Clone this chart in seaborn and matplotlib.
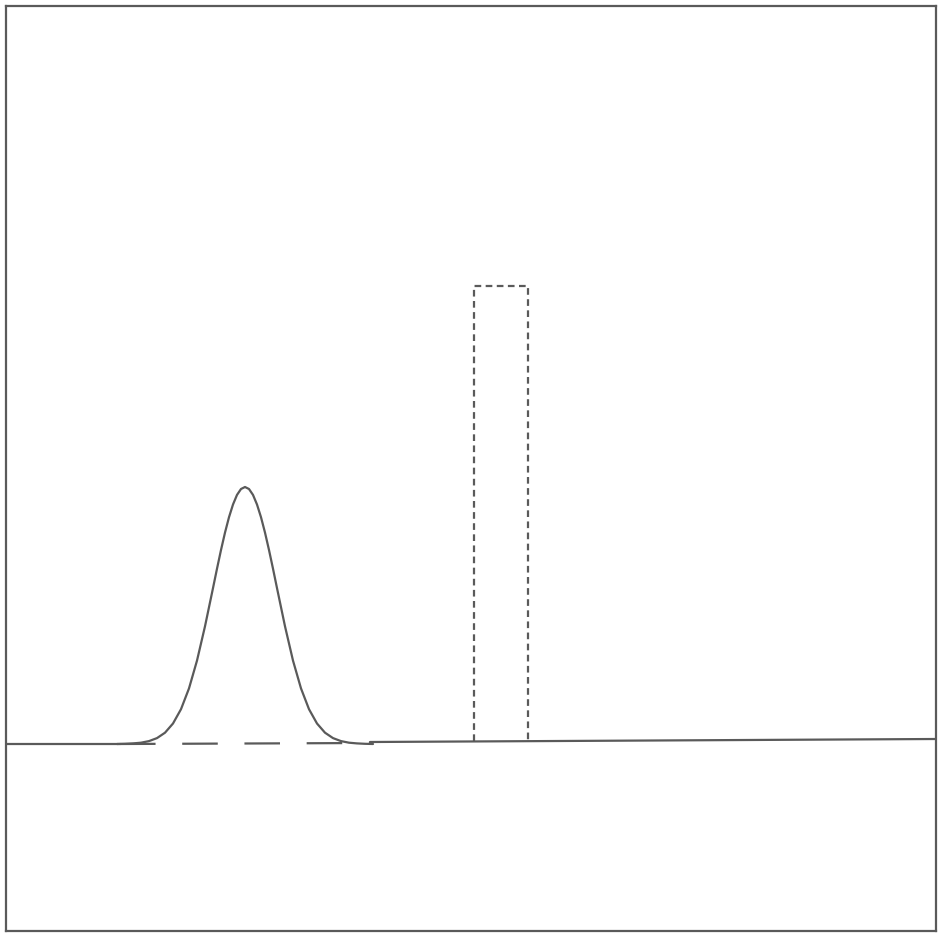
"""
Schematic: Gaussian peak on a baseline, next to a tall dashed rectangular pulse.
"""

import matplotlib
matplotlib.use("Agg")
import matplotlib.pyplot as plt
import numpy as np
import pandas as pd
import seaborn as sns

# peak: offsets from the centre and heights above the baseline
PEAK_CENTER = 245
PEAK_DX = [-128, -120, -112, -104, -96, -88, -80, -72, -64, -56, -48, -40, -32,
           -28, -24, -20, -16, -12, -8, -4, 0, 4, 8, 12, 16, 20, 24, 28, 32,
           40, 48, 56, 64, 72, 80, 88, 96, 104, 112, 120, 128]
PEAK_H = [0, 0.2, 0.6, 1.3, 2.9, 5.9, 11.3, 20.5, 34.8, 55.6, 83.4, 117.7, 155.9,
          175.3, 194.0, 211.4, 226.8, 239.5, 249.1, 255.0, 257.0, 255.0, 249.1,
          239.5, 226.8, 211.4, 194.0, 175.3, 155.9, 117.7, 83.4, 55.6, 34.8,
          20.5, 11.3, 5.9, 2.9, 1.3, 0.6, 0.2, 0]

# baseline pieces (solid) and the dashed stretch below the peak
BASE_LEFT_X = [6, 120]
BASE_LEFT_Y = [0, 0]
BASE_RIGHT_X = [370, 936]
BASE_RIGHT_Y = [2, 5]
BASE_DASH_X = [120, 370]
BASE_DASH_Y = [0, 1]

# dashed rectangular pulse
RECT_X = [474, 474, 528, 528]
RECT_Y = [3, 458, 458, 3]

GREY = "#5a5a5a"


def main() -> None:
    sns.set_theme(style="white")
    fig = plt.figure(figsize=(9.39, 9.37), dpi=100)
    ax = fig.add_axes([6 / 939, 5 / 937, 930 / 939, 925 / 937])

    peak = pd.DataFrame({"x": np.array(PEAK_DX) + PEAK_CENTER, "y": PEAK_H})
    sns.lineplot(data=peak, x="x", y="y", color=GREY, lw=1.6, sort=False, ax=ax)

    sns.lineplot(x=BASE_LEFT_X, y=BASE_LEFT_Y, color=GREY, lw=1.6, ax=ax)
    sns.lineplot(x=BASE_RIGHT_X, y=BASE_RIGHT_Y, color=GREY, lw=1.6, ax=ax)
    ax.plot(BASE_DASH_X, BASE_DASH_Y, color=GREY, lw=1.6, dashes=(16, 12))

    ax.plot(RECT_X, RECT_Y, color=GREY, lw=1.6, dashes=(3, 2))

    ax.set_xlim(6, 936)
    ax.set_ylim(-187, 738)
    ax.set_xticks([])
    ax.set_yticks([])
    ax.set_xlabel("")
    ax.set_ylabel("")
    for sp in ax.spines.values():
        sp.set_visible(True)
        sp.set_color(GREY)
        sp.set_linewidth(1.6)

    fig.savefig("out.png", dpi=100, facecolor="white")
    plt.close(fig)


if __name__ == "__main__":
    main()
